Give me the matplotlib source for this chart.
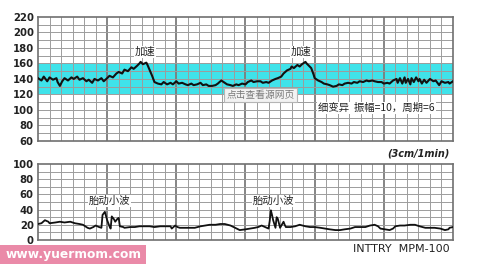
import matplotlib
matplotlib.use("Agg")
import matplotlib.pyplot as plt
from matplotlib.patches import Rectangle

plt.rcParams['font.family'] = ['Noto Sans CJK SC', 'DejaVu Sans']

# Fetal heart rate trace (time in seconds, beats per minute)
fhr_t = [0, 3, 5, 8, 10, 13, 16, 17, 19, 21, 23, 26, 29, 31, 34, 36, 39, 42, 44, 47,
         49, 52, 55, 57, 60, 62, 65, 68, 70, 73, 75, 78, 81, 83, 86, 88, 89, 91, 94, 95,
         97, 99, 101, 104, 107, 109, 112, 115, 117, 120, 122, 125, 128, 130, 133, 135,
         138, 141, 143, 146, 148, 151, 154, 156, 159, 161, 164, 167, 169, 172, 174, 177,
         180, 182, 185, 187, 190, 193, 195, 198, 200, 203, 206, 208, 211, 213, 216, 219,
         220, 222, 225, 227, 229, 232, 233, 235, 237, 239, 240, 243, 246, 248, 251, 253,
         256, 259, 261, 264, 266, 269, 272, 274, 277, 279, 282, 285, 287, 290, 292, 295,
         298, 300, 303, 305, 308, 311, 312, 314, 316, 318, 319, 321, 323, 324, 326, 328,
         330, 331, 333, 335, 337, 340, 343, 345, 348, 350, 353, 356, 357, 360]
fhr_bpm = [141, 138, 143, 137, 142, 139, 141, 136, 131, 137, 141, 138, 142, 140, 143, 139,
           141, 137, 139, 135, 140, 138, 141, 137, 141, 144, 142, 147, 149, 147, 152, 150,
           155, 153, 157, 160, 162, 159, 161, 158, 151, 144, 136, 134, 133, 136, 133, 135,
           133, 137, 134, 135, 133, 132, 134, 132, 133, 135, 132, 133, 131, 131, 132, 134,
           138, 136, 133, 132, 131, 133, 132, 134, 133, 136, 138, 136, 137, 137, 135, 136,
           135, 138, 140, 141, 143, 147, 151, 153, 156, 154, 158, 156, 159, 162, 160, 157,
           154, 146, 141, 138, 136, 134, 133, 132, 130, 131, 133, 132, 134, 135, 134, 136,
           135, 137, 136, 138, 137, 138, 137, 136, 136, 134, 135, 134, 138, 140, 135, 141,
           134, 142, 135, 140, 133, 141, 136, 142, 137, 140, 134, 139, 135, 140, 137, 138,
           132, 137, 135, 136, 134, 137]

# Fetal movement / uterine activity trace
fm_t = [0, 3, 6, 9, 10, 15, 19, 23, 28, 32, 36, 39, 41, 43, 45, 48, 50, 53, 55, 56, 58,
        60, 62, 63, 64, 66, 67, 69, 70, 71, 74, 75, 80, 84, 88, 93, 97, 101, 106, 110,
        115, 116, 119, 121, 123, 128, 132, 136, 141, 145, 149, 154, 158, 162, 167, 171,
        175, 180, 184, 188, 191, 194, 197, 200, 201, 202, 203, 204, 206, 207, 208, 210,
        213, 214, 215, 219, 223, 227, 232, 236, 240, 245, 249, 253, 258, 262, 266, 271,
        275, 279, 284, 288, 292, 295, 297, 301, 305, 308, 310, 314, 318, 323, 327, 331,
        336, 340, 344, 349, 351, 353, 356, 357, 360]
fm_val = [21, 22, 26, 24, 22, 23, 24, 23, 24, 22, 21, 20, 18, 16, 15, 17, 19, 17, 16, 33,
          37, 26, 18, 15, 31, 27, 24, 28, 29, 18, 17, 16, 17, 17, 18, 18, 18, 17, 18, 18,
          18, 15, 19, 17, 16, 16, 16, 16, 18, 19, 20, 20, 21, 21, 19, 16, 13, 14, 15, 16,
          17, 19, 17, 15, 25, 39, 33, 26, 16, 30, 28, 16, 24, 20, 17, 17, 18, 20, 18, 17,
          17, 16, 15, 14, 13, 13, 14, 15, 17, 17, 17, 19, 20, 18, 15, 14, 13, 15, 18, 19,
          19, 20, 20, 18, 16, 16, 16, 15, 14, 13, 14, 16, 17]

fhr_ticks = [60, 80, 100, 120, 140, 160, 180, 200, 220]
fm_ticks = [0, 20, 40, 60, 80, 100]
normal_band = (120, 160)

grid_minor = '#9c9c9c'
grid_major = '#7c7c7c'

fig = plt.figure(figsize=(5.0, 2.64), dpi=100)
fig.patch.set_facecolor('white')

ax1 = fig.add_axes([0.076, 0.466, 0.83, 0.470])
ax2 = fig.add_axes([0.076, 0.091, 0.83, 0.288])


def paper_grid(ax, y0, y1, ticks):
    ax.set_xlim(0, 360)
    ax.set_ylim(y0, y1)
    for s in range(10, 360, 10):
        major = (s % 60 == 0)
        ax.axvline(s, color=grid_major if major else grid_minor,
                   lw=1.3 if major else 0.7, zorder=1)
    for v in range(y0 + 10, y1, 10):
        ax.axhline(v, color=grid_minor, lw=0.7, zorder=1)
    for sp in ax.spines.values():
        sp.set_color('#707070')
        sp.set_linewidth(1.2)
    ax.set_xticks([])
    ax.set_yticks(ticks)
    ax.tick_params(axis='y', length=0, pad=3, labelsize=7.3)
    for lab in ax.get_yticklabels():
        lab.set_fontweight('bold')
        lab.set_family('DejaVu Sans')
        lab.set_color('#222222')


# Upper panel: heart rate
ax1.axhspan(normal_band[0], normal_band[1], color='#3fe3ea', zorder=0.5, lw=0)
paper_grid(ax1, 60, 220, fhr_ticks)
ax1.plot(fhr_t, fhr_bpm, color='#111111', lw=1.5, zorder=3)

txt_kw = dict(fontsize=7.5, color='#222222', zorder=4,
              bbox=dict(facecolor='white', edgecolor='none', pad=0.6))
ax1.text(93, 175, '加速', ha='center', va='center', **txt_kw)
ax1.text(228, 175, '加速', ha='center', va='center', **txt_kw)
ax1.text(243, 102.5, '细变异  振幅=10，周期=6', ha='left', va='center', **txt_kw)
ax1.text(193, 119.5, '点击查看源网页', ha='center', va='center', fontsize=7,
         color='#7a7a7a', zorder=5,
         bbox=dict(facecolor='#f2f2f2', edgecolor='#b5b5b5', pad=1.5, lw=0.8))

# Lower panel: fetal movement
paper_grid(ax2, 0, 100, fm_ticks)
ax2.plot(fm_t, fm_val, color='#111111', lw=1.3, zorder=3)
ax2.text(62, 51, '胎动小波', ha='center', va='center', **txt_kw)
ax2.text(204, 51, '胎动小波', ha='center', va='center', **txt_kw)

fig.text(0.90, 1 - 153 / 264, '(3cm/1min)', ha='right', va='center', fontsize=7,
         fontweight='bold', fontstyle='italic', family='DejaVu Sans', color='#222222')
fig.text(0.90, 1 - 249 / 264, 'INTTRY  MPM-100', ha='right', va='center',
         fontsize=8, family='DejaVu Sans', color='#222222')

fig.patches.append(Rectangle((0, 0), 0.292, 19 / 264, transform=fig.transFigure,
                             facecolor='#ea8aa8', edgecolor='none', zorder=5))
fig.text(0.012, 9.5 / 264, 'www.yuermom.com', ha='left', va='center', fontsize=8.8,
         fontweight='bold', family='DejaVu Sans', color='white', zorder=6)

fig.savefig('out.png', dpi=100)
